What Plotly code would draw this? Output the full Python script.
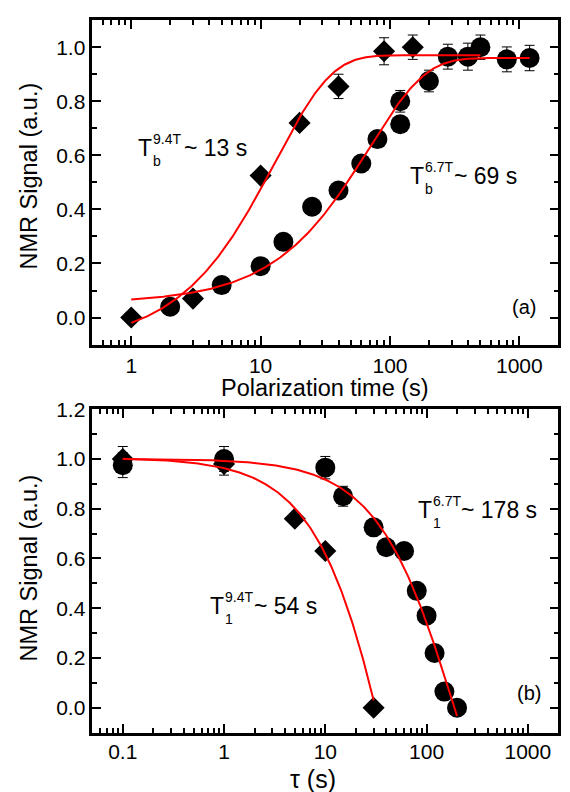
import numpy as np
import plotly.graph_objects as go

# ---------------- data ----------------
# panel (a): polarization build-up
a_circ_x = [2, 5, 10, 15, 25, 40, 60, 80, 120, 120, 200, 280, 400, 500, 800, 1200]
a_circ_y = [0.04, 0.12, 0.19, 0.28, 0.41, 0.47, 0.57, 0.66, 0.80, 0.715, 0.875, 0.965, 0.965, 1.0, 0.955, 0.96]
a_circ_err = [0, 0, 0, 0, 0, 0, 0, 0, 0.04, 0, 0.04, 0.046, 0.05, 0.045, 0.046, 0.047]
a_dia_x = [1, 3, 10, 20, 40, 90, 150]
a_dia_y = [0.0, 0.07, 0.525, 0.72, 0.855, 0.985, 1.0]
a_dia_err = [0, 0, 0, 0, 0.045, 0.05, 0.045]

# panel (b): relaxation decay
b_circ_x = [0.1, 1, 10, 15, 30, 40, 60, 80, 100, 120, 150, 200]
b_circ_y = [0.975, 1.0, 0.965, 0.85, 0.725, 0.645, 0.63, 0.47, 0.37, 0.22, 0.065, 0.0]
b_circ_err = [0.05, 0.05, 0.045, 0.04, 0, 0, 0, 0, 0, 0, 0, 0]
b_dia_x = [0.1, 1, 5, 10, 30]
b_dia_y = [1.0, 0.98, 0.76, 0.63, 0.0]
b_dia_err = [0.05, 0.045, 0, 0, 0]

# fit parameters: y = A + B*exp(-t/T), over [t0, t1]
fit_a_94 = dict(A=0.97, B=-1.069, T=13, t0=1, t1=500)
fit_a_67 = dict(A=0.96, B=-0.906, T=69, t0=1, t1=1200)
fit_b_94 = dict(A=-1.283, B=2.288, T=54, t0=0.1, t1=30)
fit_b_67 = dict(A=-0.531, B=1.532, T=178, t0=0.1, t1=200)

x_ticks_a = [1, 10, 100, 1000]
x_ticks_b = [0.1, 1, 10, 100, 1000]


def fit_curve(p):
    t = np.logspace(np.log10(p["t0"]), np.log10(p["t1"]), 300)
    return t, p["A"] + p["B"] * np.exp(-t / p["T"])


FONT = "Arial, Liberation Sans, sans-serif"
RED = "#ff0000"

fig = go.Figure()


def add_points(x, y, err, symbol, size, xa, ya):
    fig.add_trace(go.Scatter(
        x=x, y=y, mode="markers", xaxis=xa, yaxis=ya,
        marker=dict(symbol=symbol, size=size, color="black", line=dict(width=0)),
        error_y=dict(type="data", array=err, visible=True, color="black", thickness=1, width=5),
        showlegend=False))


def add_fit(p, xa, ya):
    t, y = fit_curve(p)
    fig.add_trace(go.Scatter(x=t, y=y, mode="lines", xaxis=xa, yaxis=ya,
                             line=dict(color=RED, width=2), showlegend=False))


add_points(a_dia_x, a_dia_y, a_dia_err, "diamond", 17, "x", "y")
add_points(a_circ_x, a_circ_y, a_circ_err, "circle", 20, "x", "y")
add_points(b_dia_x, b_dia_y, b_dia_err, "diamond", 17, "x2", "y2")
add_points(b_circ_x, b_circ_y, b_circ_err, "circle", 20, "x2", "y2")
add_fit(fit_a_94, "x", "y")
add_fit(fit_a_67, "x", "y")
add_fit(fit_b_94, "x2", "y2")
add_fit(fit_b_67, "x2", "y2")

W, H = 570, 792
xdom = [92.3 / W, 558.3 / W]

axis_common = dict(
    showline=True, linewidth=2.5, linecolor="black", mirror="ticks",
    ticks="inside", ticklen=9, tickwidth=2, tickcolor="black",
    showgrid=False, zeroline=False,
    tickfont=dict(family=FONT, size=21, color="black"),
)
minor_log = dict(ticks="inside", ticklen=5, tickwidth=1.5, tickcolor="black", dtick="D1")
minor_lin = dict(ticks="inside", ticklen=5, tickwidth=1.5, tickcolor="black", dtick=0.1)

fig.update_layout(
    width=W, height=H, margin=dict(l=0, r=0, t=0, b=0),
    paper_bgcolor="white", plot_bgcolor="white",
    xaxis=dict(type="log", domain=xdom, anchor="y", range=[-0.301, 3.301],
               tickvals=x_ticks_a, ticktext=[str(v) for v in x_ticks_a],
               minor=minor_log, **axis_common),
    yaxis=dict(domain=[1 - 337.7 / H, 1 - 8.3 / H], anchor="x", range=[-0.1, 1.1],
               tick0=0, dtick=0.2, tickformat=".1f", minor=minor_lin, **axis_common),
    xaxis2=dict(type="log", domain=xdom, anchor="y2", range=[-1.301, 3.301],
                tickvals=x_ticks_b, ticktext=[str(v) for v in x_ticks_b],
                ticklabelstandoff=-2,
                minor=minor_log, **axis_common),
    yaxis2=dict(domain=[1 - 731.7 / H, 1 - 403.3 / H], anchor="x2", range=[-0.1, 1.2],
                tick0=0, dtick=0.2, tickformat=".1f", minor=minor_lin, **axis_common),
)

ann = []


def txt(text, x, y, size, xref="paper", yref="paper", xanchor="center", yanchor="middle",
        xshift=0, yshift=0, angle=0):
    ann.append(dict(text=text, x=x, y=y, xref=xref, yref=yref, xanchor=xanchor,
                    yanchor=yanchor, xshift=xshift, yshift=yshift, textangle=angle,
                    showarrow=False, font=dict(family=FONT, size=size, color="black")))


# axis titles
txt("Polarization time (s)", 325 / W, 1 - 382 / H, 23.5)
txt("τ (s)", 313 / W, 1 - 778.5 / H, 25)
txt("NMR Signal (a.u.)", 29 / W, 1 - 167 / H, 23.5, angle=-90)
txt("NMR Signal (a.u.)", 29 / W, 1 - 565 / H, 23.5, angle=-90)

# panel labels
txt("(a)", 538 / W, 1 - 300 / H, 20, xanchor="right")
txt("(b)", 543 / W, 1 - 691 / H, 20, xanchor="right")


def tlabel(sub, sup, rest, x, y, xref, yref, rest_shift):
    txt("T", x, y, 23, xref, yref, xanchor="left")
    txt(sup, x, y, 14, xref, yref, xanchor="left", xshift=15, yshift=9)
    txt(sub, x, y, 14, xref, yref, xanchor="left", xshift=15, yshift=-13)
    txt(rest, x, y, 23, xref, yref, xanchor="left", xshift=rest_shift)


tlabel("b", "9.4T", "~ 13 s", 0.039, 0.629, "x", "y", 46)
tlabel("b", "6.7T", "~ 69 s", 2.14, 0.523, "x", "y", 44)
tlabel("1", "6.7T", "~ 178 s", 1.894, 0.794, "x2", "y2", 43)
tlabel("1", "9.4T", "~ 54 s", -0.155, 0.408, "x2", "y2", 44)

fig.update_layout(annotations=ann)
fig.write_html("out.html", config={"displayModeBar": False},
               post_script="document.body.style.margin='0';")
